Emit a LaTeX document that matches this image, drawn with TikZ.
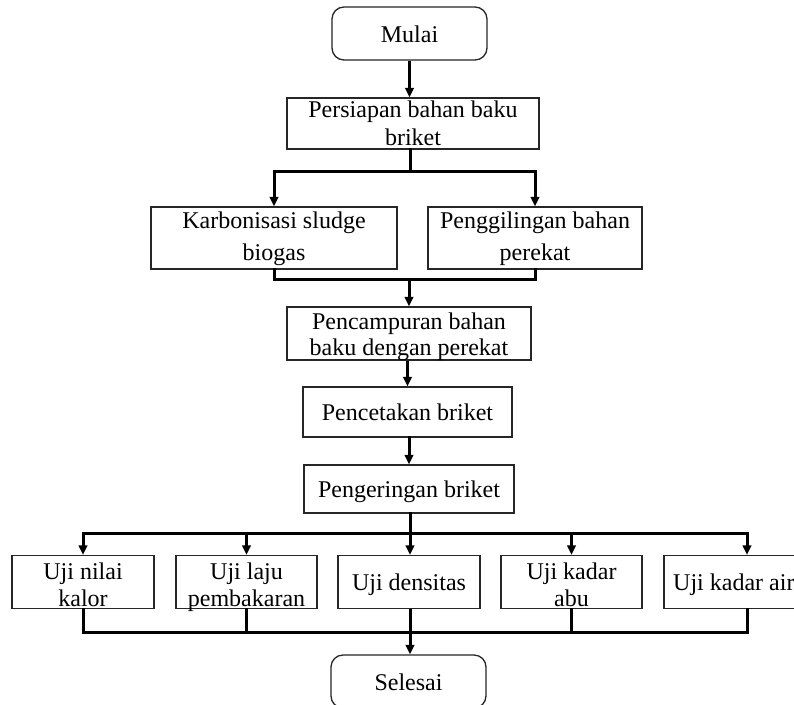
\documentclass[tikz,border=0pt]{standalone}
\usepackage{fontspec}
\setmainfont{Liberation Serif}
\usetikzlibrary{arrows.meta,calc}
\newcommand\TwoL[3]{{\fontsize{24}{#1}\selectfont\begin{tabular}[t]{@{}c@{}}#2\\#3\end{tabular}}}
\begin{document}
\begin{tikzpicture}[x=1pt,y=-1pt,
  box/.style={draw=black!85,line width=1.3pt,inner sep=0pt},
  term/.style={box,rounded corners=12pt},
  txt/.style={inner sep=0pt,anchor=base,font=\fontsize{24}{28}\selectfont},
  conn/.style={line width=3pt,line cap=rect},
  arr/.style={line width=3pt,-{Triangle[length=9.5pt,width=8.5pt]}}]
\useasboundingbox (0,0) rectangle (794,704);
\clip (0,0) rectangle (794,704);
\fill[white] (0,0) rectangle (794,704);

\node[term,minimum width=155pt,minimum height=53pt] (mulai) at (409.5,33.5) {};
\node[txt] (mulaiT) at ($(mulai.center)+(0,8.5)$) {Mulai};
\node[box,minimum width=252pt,minimum height=51pt] (persiapan) at (413,123.5) {};
\node[txt] (persiapanT) at ($(persiapan.center)+(0,-6)$) {\TwoL{28}{Persiapan bahan baku}{briket}};
\node[box,minimum width=246pt,minimum height=62pt] (karbon) at (274,238) {};
\node[txt] (karbonT) at ($(karbon.center)+(0,-10)$) {\TwoL{32}{Karbonisasi sludge}{biogas}};
\node[box,minimum width=214pt,minimum height=62pt] (penggil) at (535,238) {};
\node[txt] (penggilT) at ($(penggil.center)+(0,-10)$) {\TwoL{32}{Penggilingan bahan}{perekat}};
\node[box,minimum width=244pt,minimum height=53pt] (pencamp) at (409,333.5) {};
\node[txt] (pencampT) at ($(pencamp.center)+(0,-4.5)$) {\TwoL{26}{Pencampuran bahan}{baku dengan perekat}};
\node[box,minimum width=209pt,minimum height=50pt] (pencet) at (407.5,412) {};
\node[txt] (pencetT) at ($(pencet.center)+(0,8)$) {Pencetakan briket};
\node[box,minimum width=210pt,minimum height=48pt] (pengering) at (409,489) {};
\node[txt] (pengeringT) at ($(pengering.center)+(0,8)$) {Pengeringan briket};

\node[box,minimum width=142pt,minimum height=53pt] (u1) at (83,582) {};
\node[txt] (u1T) at ($(u1.center)+(0,-3)$) {\TwoL{27}{Uji nilai}{kalor}};
\node[box,minimum width=141pt,minimum height=53pt] (u2) at (246.5,582) {};
\node[txt] (u2T) at ($(u2.center)+(0,-3)$) {\TwoL{27}{Uji laju}{pembakaran}};
\node[box,minimum width=142pt,minimum height=53pt] (u3) at (409,582) {};
\node[txt] (u3T) at ($(u3.center)+(0,8)$) {Uji densitas};
\node[box,minimum width=141pt,minimum height=53pt] (u4) at (571.5,582) {};
\node[txt] (u4T) at ($(u4.center)+(0,-3)$) {\TwoL{27}{Uji kadar}{abu}};
\node[box,minimum width=166pt,minimum height=53pt] (u5) at (747,582) {};
\node[txt,anchor=base west] (u5T) at (673,590) {Uji kadar air};

\node[term,minimum width=155pt,minimum height=53pt] (selesai) at (408.5,681.5) {};
\node[txt] (selesaiT) at ($(selesai.center)+(0,8.5)$) {Selesai};

\coordinate (j1) at (410,171);
\coordinate (j2) at (409,279);
\coordinate (j3) at (410,533);
\coordinate (j4) at (410,632);

\draw[arr] (mulai.south) -- (mulai.south |- persiapan.north);
\draw[conn] (persiapan.south -| j1) -- (j1);
\draw[arr] (j1) -| (karbon.north);
\draw[arr] (j1) -| (penggil.north);

\draw[conn] (karbon.south) |- (j2) -| (penggil.south);
\draw[arr] (j2) -- (j2 |- pencamp.north);
\draw[arr] (pencamp.south -| pencet.north) -- (pencet.north);
\draw[arr] (pencet.south) -- (pencet.south -| pengering.north) -- (pengering.north);

\draw[conn] (pengering.south -| j3) -- (j3);
\draw[arr] (j3) -| (u1.north);
\draw[arr] (j3) -| (u2.north);
\draw[arr] (j3) -- (j3 |- u3.north);
\draw[arr] (j3) -| (u4.north);
\draw[arr] (j3) -| (u5.north);

\draw[conn] (u1.south) |- (j4) -| (u5.south);
\draw[conn] (u2.south) -- (u2.south |- j4);
\draw[conn] (u4.south) -- (u4.south |- j4);
\draw[arr] (u3.south -| j4) -- (j4 |- selesai.north);
\end{tikzpicture}
\end{document}
